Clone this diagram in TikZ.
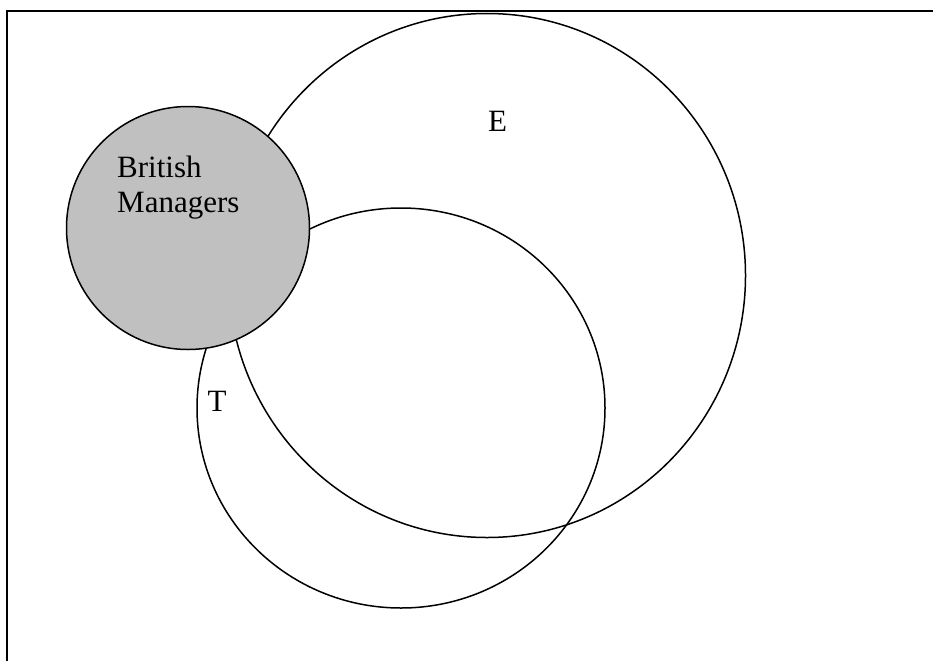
\documentclass[tikz,border=0pt]{standalone}
\usepackage{fontspec}
\setmainfont{Liberation Serif}
\begin{document}
\begin{tikzpicture}[x=1pt,y=-1pt,
  setline/.style={draw=black,line width=1.5pt},
  lbl/.style={inner sep=0pt,anchor=base west,font=\fontsize{31}{35}\selectfont}]
\useasboundingbox (0,0) rectangle (933,661);
\draw[line width=2.2pt] (7,661) -- (7,11) -- (933,11);
\draw[setline] (487,275.5) ellipse [x radius=258.5, y radius=262];
\draw[setline] (401,408) ellipse [x radius=204, y radius=200];
\draw[setline,fill={rgb,255:red,192;green,192;blue,192}] (188,228) circle [radius=121.5];
\node[lbl,align=left] (bm) at (117,212) {British\\Managers};
\node[lbl] (e) at (488,131.5) {E};
\node[lbl] (t) at (207.5,411) {T};
\end{tikzpicture}
\end{document}
